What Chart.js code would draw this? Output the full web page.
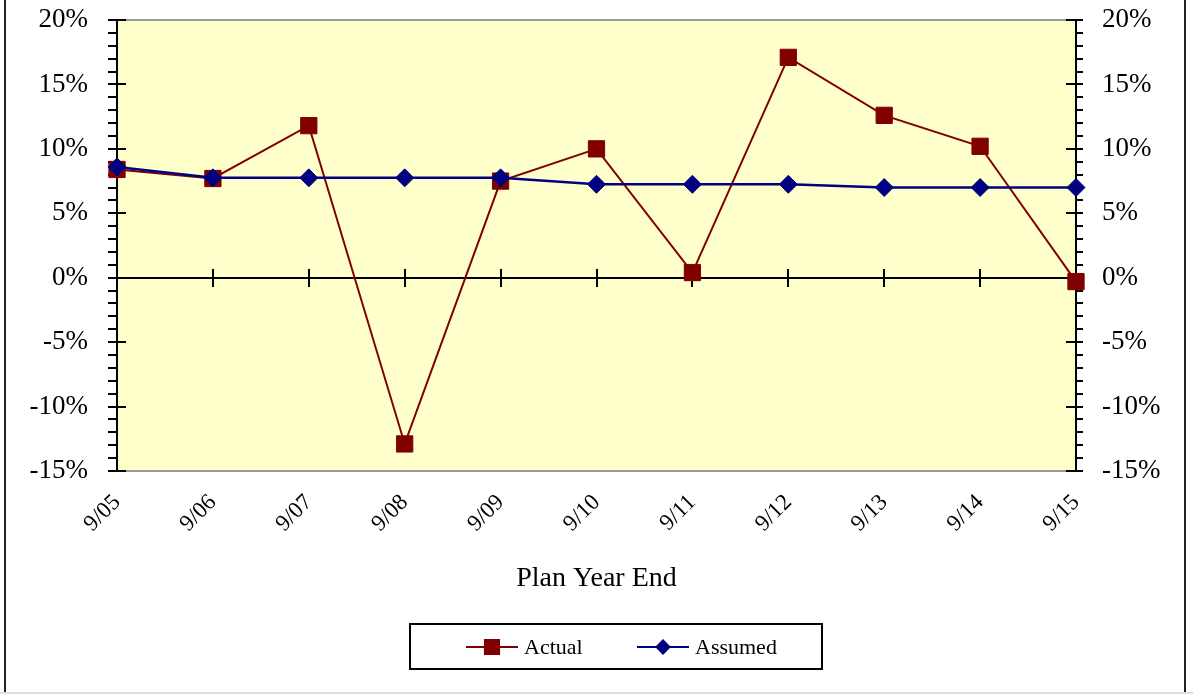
<!DOCTYPE html>
<html>
<head>
<meta charset="utf-8">
<title>Plan Year Returns</title>
<script src="https://cdn.jsdelivr.net/npm/chart.js@4.4.1/dist/chart.umd.min.js"></script>
<style>
    html, body { margin: 0; padding: 0; background: #fff; }
    canvas { display: block; }
</style>
</head>
<body>
<canvas id="returnChart" width="1193" height="694"></canvas>
<script>
// Plan year ends and returns (%)
const yearLabels = ['9/05', '9/06', '9/07', '9/08', '9/09', '9/10', '9/11', '9/12', '9/13', '9/14', '9/15'];
const actualReturns = [8.4, 7.7, 11.8, -12.9, 7.5, 10.0, 0.4, 17.1, 12.6, 10.2, -0.3];
const assumedReturns = [8.6, 7.75, 7.75, 7.75, 7.75, 7.25, 7.25, 7.25, 7.0, 7.0, 7.0];

// Axis range and tick spacing
const yMin = -15;
const yMax = 20;
const majorStep = 5;
const minorStep = 1;

const serif = 'Liberation Serif';
const actualColor = '#800000';
const assumedColor = '#000080';

// Fill plot area, draw axis tick marks, legend box and outer frame
const chartDecor = {
    id: 'chartDecor',
    beforeDraw(chart) {
        const { ctx, chartArea: a } = chart;
        ctx.save();
        ctx.fillStyle = '#FFFFCC';
        ctx.fillRect(a.left, a.top, a.right - a.left, a.bottom - a.top);
        ctx.restore();
    },
    beforeDatasetsDraw(chart) {
        const { ctx, chartArea: a, scales } = chart;
        const y = scales.y;
        const x = scales.x;
        ctx.save();
        ctx.lineWidth = 2;

        // top edge of plot area
        ctx.beginPath();
        ctx.strokeStyle = '#999';
        ctx.moveTo(a.left, a.top);
        ctx.lineTo(a.right, a.top);
        ctx.stroke();

        ctx.strokeStyle = '#000';
        ctx.beginPath();
        for (let v = yMin; v <= yMax; v += minorStep) {
            const py = Math.round(y.getPixelForValue(v));
            const major = v % majorStep === 0;
            // left axis
            ctx.moveTo(a.left - 9, py);
            ctx.lineTo(major ? a.left + 9 : a.left, py);
            // right axis
            ctx.moveTo(major ? a.right - 10 : a.right, py);
            ctx.lineTo(a.right + 7, py);
        }
        // category ticks across the zero line
        const zeroY = Math.round(y.getPixelForValue(0));
        yearLabels.forEach((label, i) => {
            const px = Math.round(x.getPixelForValue(i));
            ctx.moveTo(px, zeroY - 9);
            ctx.lineTo(px, zeroY + 9);
        });
        ctx.stroke();
        ctx.restore();
    },
    afterDraw(chart) {
        const { ctx, width, height } = chart;
        ctx.save();

        // outer frame
        ctx.strokeStyle = '#222';
        ctx.lineWidth = 2;
        ctx.beginPath();
        ctx.moveTo(5, 0);
        ctx.lineTo(5, height);
        ctx.moveTo(width - 8, 0);
        ctx.lineTo(width - 8, height);
        ctx.stroke();
        ctx.strokeStyle = '#ddd';
        ctx.beginPath();
        ctx.moveTo(0, height - 1);
        ctx.lineTo(width, height - 1);
        ctx.stroke();

        // legend box
        ctx.strokeStyle = '#000';
        ctx.lineWidth = 2;
        ctx.strokeRect(410, 624, 412, 45);

        const items = [
            { text: 'Actual', color: actualColor, style: 'rect', radius: 10, x: 466 },
            { text: 'Assumed', color: assumedColor, style: 'rectRot', radius: 6.5, x: 637 }
        ];
        const ly = 647;
        ctx.font = '22px "' + serif + '"';
        ctx.textBaseline = 'middle';
        ctx.textAlign = 'left';
        items.forEach(item => {
            ctx.strokeStyle = item.color;
            ctx.lineWidth = 2;
            ctx.beginPath();
            ctx.moveTo(item.x, ly);
            ctx.lineTo(item.x + 52, ly);
            ctx.stroke();
            ctx.fillStyle = item.color;
            Chart.helpers.drawPoint(ctx, {
                pointStyle: item.style,
                radius: item.radius,
                rotation: 0,
                borderWidth: 1
            }, item.x + 26, ly);
            ctx.fill();
            ctx.fillStyle = '#000';
            ctx.fillText(item.text, item.x + 58, ly + 1);
        });
        ctx.restore();
    }
};

// keep the scales from adding label overflow padding
function noScalePadding(scale) {
    scale.paddingTop = 0;
    scale.paddingBottom = 0;
}

const ctx = document.getElementById('returnChart').getContext('2d');
const returnChart = new Chart(ctx, {
    type: 'line',
    data: {
        labels: yearLabels,
        datasets: [{
            label: 'Actual',
            data: actualReturns,
            borderColor: actualColor,
            backgroundColor: actualColor,
            borderWidth: 2,
            pointStyle: 'rect',
            pointRadius: 11.5,
            pointBorderWidth: 1,
            tension: 0,
            order: 1
        }, {
            label: 'Assumed',
            data: assumedReturns,
            borderColor: assumedColor,
            backgroundColor: assumedColor,
            borderWidth: 2.5,
            pointStyle: 'rectRot',
            pointRadius: 9,
            pointBorderWidth: 1,
            tension: 0,
            order: 0
        }]
    },
    options: {
        responsive: false,
        animation: false,
        devicePixelRatio: 1,
        layout: {
            padding: { top: 20, bottom: 89, left: 0, right: 0 }
        },
        plugins: {
            legend: { display: false },
            tooltip: { enabled: false }
        },
        scales: {
            x: {
                offset: false,
                grid: { display: false, drawTicks: false },
                border: { color: '#999', width: 2 },
                ticks: {
                    color: '#000',
                    font: { family: serif, size: 23 },
                    minRotation: 45,
                    maxRotation: 45,
                    autoSkip: false,
                    padding: 18
                },
                title: {
                    display: true,
                    text: 'Plan Year End',
                    color: '#000',
                    font: { family: serif, size: 28 },
                    padding: { top: 0, bottom: 10 }
                },
                afterFit(scale) {
                    scale.height = 134;
                    scale.paddingLeft = 0;
                    scale.paddingRight = 0;
                }
            },
            y: {
                position: 'left',
                min: yMin,
                max: yMax,
                grid: {
                    drawTicks: false,
                    color: c => (c.tick && c.tick.value === 0 ? '#000' : 'rgba(0,0,0,0)'),
                    lineWidth: 2
                },
                border: { color: '#000', width: 2 },
                ticks: {
                    stepSize: majorStep,
                    color: '#000',
                    font: { family: serif, size: 27 },
                    padding: 29,
                    callback: v => v + '%'
                },
                afterFit(scale) {
                    scale.width = 117;
                    noScalePadding(scale);
                }
            },
            y2: {
                position: 'right',
                display: true,
                min: yMin,
                max: yMax,
                grid: { drawOnChartArea: false, drawTicks: false },
                border: { color: '#000', width: 2 },
                ticks: {
                    stepSize: majorStep,
                    color: '#000',
                    font: { family: serif, size: 27 },
                    padding: 26,
                    callback: v => v + '%'
                },
                afterFit(scale) {
                    scale.width = 117;
                    noScalePadding(scale);
                }
            }
        }
    },
    plugins: [chartDecor]
});
</script>
</body>
</html>
